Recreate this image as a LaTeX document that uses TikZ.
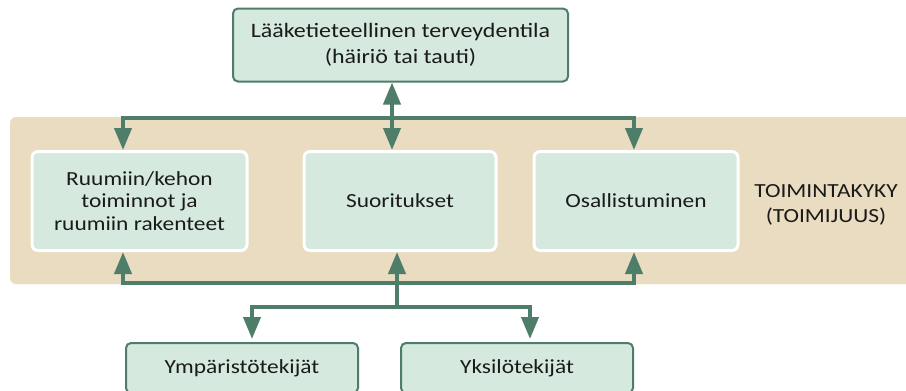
\documentclass[tikz,border=0pt]{standalone}
\usepackage{fontspec}
\setmainfont[FakeStretch=1.17]{Carlito}
\usetikzlibrary{arrows.meta,calc}
\definecolor{dgreen}{HTML}{4E7D6A}
\definecolor{lgreen}{HTML}{D6E9DF}
\definecolor{tanbg}{HTML}{E9DCC0}
\definecolor{txt}{HTML}{1A1A1A}
\tikzset{
  outerbox/.style={draw=dgreen, line width=2pt, fill=lgreen, rounded corners=5pt, text=txt, align=center, inner sep=0pt},
  innerbox/.style={draw=white, line width=3pt, fill=lgreen, rounded corners=6pt, text=txt, align=center, inner sep=0pt},
  conn/.style={draw=dgreen, line width=4pt},
  arr/.style={conn, -{Triangle[width=17pt,length=22pt]}},
  darr/.style={conn, {Triangle[width=17pt,length=22pt]}-{Triangle[width=17pt,length=22pt]}},
}
\begin{document}
\begin{tikzpicture}[x=1pt,y=-1pt, font=\fontsize{20}{22.5}\selectfont]
\clip (0,0) rectangle (906,391);
\fill[white] (0,0) rectangle (906,391);
\fill[tanbg, rounded corners=6pt] (10,117) rectangle (920,284);

\node[outerbox, minimum width=335pt, minimum height=73pt, font=\fontsize{20.5}{26}\selectfont] (T) at (400.5,45) {Lääketieteellinen terveydentila\\(häiriö tai tauti)};
\node[innerbox, minimum width=215pt, minimum height=99pt] (B) at (139.5,201) {Ruumiin/kehon\\toiminnot ja\\ruumiin rakenteet};
\node[innerbox, minimum width=192pt, minimum height=99pt] (S) at (400,201) {Suoritukset};
\node[innerbox, minimum width=204pt, minimum height=99pt] (O) at (636,201) {Osallistuminen};
\node[text=txt, align=center, font=\fontsize{20}{25}\selectfont] (K) at (826,205) {TOIMINTAKYKY\\(TOIMIJUUS)};
\node[outerbox, minimum width=232pt, minimum height=50pt] (Y) at (242,368) {Ympäristötekijät};
\node[outerbox, minimum width=232pt, minimum height=50pt] (P) at (517,368) {Yksilötekijät};

\coordinate (xl) at (123,0);
\coordinate (xr) at (634,0);
\coordinate (jt) at (392,118);
\coordinate (jb) at (397,283);
\coordinate (jd) at (397,307);
\coordinate (xy) at (252,0);
\coordinate (xp) at (530,0);

\draw[arr] (jt) -| (B.north -| xl);
\draw[arr] (jt) -| (O.north -| xr);
\draw[darr] (T.south -| jt) -- (S.north -| jt);

\draw[arr] (jb) -| (B.south -| xl);
\draw[arr] (jb) -| (O.south -| xr);
\draw[arr] (jd) -- (S.south -| jb);
\draw[arr, shorten >=3pt] (jd) -| (Y.north -| xy);
\draw[arr, shorten >=3pt] (jd) -| (P.north -| xp);
\end{tikzpicture}
\end{document}
